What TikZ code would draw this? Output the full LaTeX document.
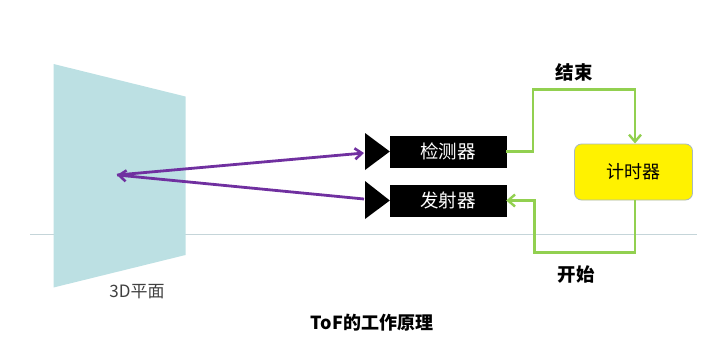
\documentclass[tikz,border=0pt]{standalone}
\usepackage{fontspec}
\newfontfamily\cjk{Noto Sans CJK SC}
\usetikzlibrary{arrows.meta}
\definecolor{planec}{HTML}{BCE0E3}
\definecolor{axisc}{HTML}{C5D5D9}
\definecolor{purp}{HTML}{7030A0}
\definecolor{grn}{HTML}{92D050}
\definecolor{tborder}{HTML}{A8B8C0}
\tikzset{
  devbox/.style={fill=black,draw=black,minimum width=116pt,minimum height=31pt,inner sep=0pt,text=white,font=\cjk\fontsize{18.5}{18.5}\selectfont},
  tri/.style={fill=black,draw=none},
  ray/.style={purp,line width=2.8pt,-{Straight Barb[length=7pt,width=11pt,line width=2.6pt]}},
  wire/.style={grn,line width=2.4pt},
  wirearr/.style={wire,-{Straight Barb[length=7pt,width=12pt,line width=2.4pt]}},
  lbl/.style={font=\cjk\bfseries\fontsize{18.5}{18.5}\selectfont,text=black}
}
\begin{document}
\begin{tikzpicture}[x=1pt,y=-1pt]
\useasboundingbox (0,0) rectangle (719,359);
% baseline
\draw[axisc,line width=1pt] (30,234.5) -- (697,234.5);
% plane
\fill[planec] (53.5,64) -- (185.5,96.5) -- (185.5,255) -- (53.5,287.5) -- cycle;
\node[font=\cjk\fontsize{17}{17}\selectfont,text=black!75] (plane) at (137,292) {3D平面};
\coordinate (hit) at (117,175);
% devices
\node[devbox] (det) at (448,151.5) {检测器};
\node[devbox] (emi) at (448,200.5) {发射器};
\fill[tri] (365,133) -- (det.west) -- (365,170) -- cycle;
\fill[tri] (365,181) -- (emi.west) -- (365,219) -- cycle;
\coordinate (dettip) at (364,153);
\coordinate (emitail) at (364,199);
% rays
\draw[ray] (emitail) -- (hit);
\draw[ray] (hit) -- (dettip);
% timer
\node[draw=tborder,line width=0.8pt,fill=yellow,rounded corners=7pt,minimum width=118pt,minimum height=56pt,inner sep=0pt,font=\cjk\fontsize{18}{18}\selectfont] (tim) at (633.5,172) {计时器};
% wires
\draw[wirearr] (det.east) -- (533,151.5) -- (533,89.5) -- (635,89.5) -- (635,143.5);
\draw[wirearr] (635,200) -- (635,252.5) -- (534.5,252.5) -- (534.5,200.5) -- (emi.east);
\node[lbl] (endl) at (574,72) {结束};
\node[lbl] (startl) at (576,275) {开始};
\node[font=\cjk\bfseries\fontsize{18}{18}\selectfont] (title) at (372,323) {ToF的工作原理};
\end{tikzpicture}
\end{document}
